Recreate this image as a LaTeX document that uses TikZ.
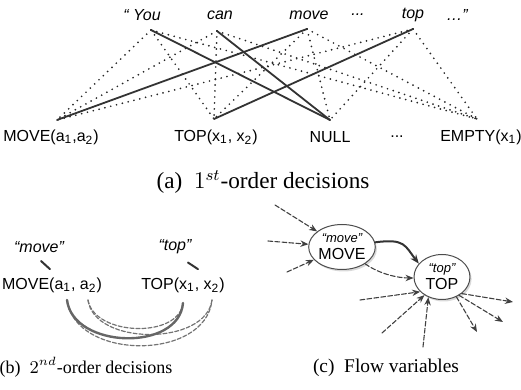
\documentclass[tikz,border=0pt]{standalone}
\usepackage{fontspec}
\setmainfont{Liberation Serif}
\setsansfont{Liberation Sans}
\usepackage{tikz}
\usetikzlibrary{arrows.meta,shapes.geometric,shadows,positioning}

\tikzset{
  wrd/.style={font=\sffamily\itshape\fontsize{8}{9}\selectfont, inner sep=1pt},
  pred/.style={font=\sffamily\fontsize{8}{9}\selectfont, inner sep=1pt},
  captxt/.style={font=\fontsize{9.7}{11}\selectfont, inner sep=0pt},
  dots/.style={black!85, line width=0.95pt, dash pattern=on 0pt off 3pt},
  hard/.style={black!80, line width=0.9pt},
  soft/.style={black!55, line width=0.6pt, dash pattern=on 2pt off 1pt},
  flow/.style={black!75, line width=0.55pt, dash pattern=on 2.4pt off 1.1pt, -{Stealth[length=4pt,width=3.2pt]}},
  var/.style={ellipse, draw=black!70, fill=white, line width=0.5pt, minimum width=28pt, minimum height=22.5pt,
    inner sep=0pt, align=center, font=\sffamily\fontsize{8}{8.5}\selectfont,
    drop shadow={shadow xshift=0.8pt, shadow yshift=-1pt, opacity=.3}}
}

\begin{document}
\begin{tikzpicture}[x=0.5pt, y=-0.5pt, line join=round, line cap=round]
  \useasboundingbox (0,0) rectangle (521,390);

  % (a) 1st-order decisions
  \node[wrd] (w1) at (142,15) {“ You};
  \node[wrd] (w2) at (220,15) {can};
  \node[wrd] (w3) at (309,15) {move};
  \node[wrd] (w4) at (358,15) {...};
  \node[wrd] (w5) at (413,15) {top};
  \node[wrd] (w6) at (457,15) {…”};
  \coordinate (you) at (151,30);
  \coordinate (can) at (217,31);
  \coordinate (mov) at (307,29);
  \coordinate (top) at (413,29);
  \coordinate (dmove) at (57,120);
  \coordinate (dtop) at (214,119);
  \coordinate (dnull) at (330,120);
  \coordinate (dempty) at (477,119);
  \node[pred] (p1) at (51,137) {MOVE(a\textsubscript{1},a\textsubscript{2})};
  \node[pred] (p2) at (216,137) {TOP(x\textsubscript{1}, x\textsubscript{2})};
  \node[pred] (p3) at (330,137) {NULL};
  \node[pred] (p4) at (397,137) {...};
  \node[pred] (p5) at (481,137) {EMPTY(x\textsubscript{1})};

  \draw[dots] (you) -- (dmove);
  \draw[dots] (you) -- (dtop);
  \draw[dots] (you) -- (dempty);
  \draw[dots] (can) -- (dmove);
  \draw[dots] (can) -- (dtop);
  \draw[dots] (can) -- (dempty);
  \draw[dots] (mov) -- (dtop);
  \draw[dots] (mov) -- (dnull);
  \draw[dots] (mov) -- (dempty);
  \draw[dots] (top) -- (dmove);
  \draw[dots] (top) -- (dnull);
  \draw[dots] (top) -- (dempty);
  \draw[hard] (you) -- (dnull);
  \draw[hard] (can) -- (dnull);
  \draw[hard] (mov) -- (dmove);
  \draw[hard] (top) -- (dtop);

  \node[captxt, font=\fontsize{11.6}{13}\selectfont] (capa) at (263,182) {(a)\ \ $1^{st}$-order decisions};

  % (b) 2nd-order decisions
  \node[wrd] (qmove) at (39,247) {“move”};
  \node[wrd] (qtop) at (175,247) {“top”};
  \node[pred] (amove) at (52,285) {MOVE(a\textsubscript{1}, a\textsubscript{2})};
  \node[pred] (atop) at (183,285) {TOP(x\textsubscript{1}, x\textsubscript{2})};
  \draw[hard, line width=1pt] ([xshift=1pt,yshift=-3pt]qmove.south) -- ([xshift=-1pt,yshift=3pt]amove.north);
  \draw[hard, line width=1pt] ([xshift=6.5pt,yshift=-3pt]qtop.south) -- ([xshift=7.5pt,yshift=3pt]atop.north);
  \coordinate (a1) at (67,300);
  \coordinate (a2) at (88,300);
  \coordinate (x1) at (183,303);
  \coordinate (x2) at (212,300);
  \draw[soft] (a1) .. controls +(8,61) and +(-6,61) .. (x2);
  \draw[soft] (a2) .. controls +(6,46) and +(-6,46) .. (x2);
  \draw[soft] (a2) .. controls +(6,36) and +(-4,36) .. (x1);
  \draw[black!60, line width=1.2pt] (a1) .. controls +(6,49) and +(-4,49) .. (x1);

  \node[captxt, font=\fontsize{9}{10.5}\selectfont] (capb) at (86,367) {(b)\ \ $2^{nd}$-order decisions};

  % (c) Flow variables
  \node[var] (fmove) at (342,247) {{\fontsize{6.5}{7}\selectfont\itshape “move”}\\MOVE};
  \node[var] (ftop) at (442,277) {{\fontsize{6.5}{7}\selectfont\itshape “top”}\\TOP};
  \coordinate (in1) at (275,205);
  \coordinate (in2) at (268,241);
  \coordinate (in3) at (287,272);
  \coordinate (in4) at (360,300);
  \coordinate (in5) at (382,333);
  \coordinate (in6) at (423,347);
  \coordinate (out1) at (513,302);
  \coordinate (out2) at (503,322);
  \coordinate (out3) at (477,332);
  \draw[flow] (in1) -- (fmove);
  \draw[flow] (in2) -- (fmove);
  \draw[flow] (in3) -- (fmove);
  \draw[hard, line width=1pt, -{Stealth[length=4.5pt,width=3.5pt]}] (fmove.8) .. controls +(30,-4) and +(-14,-18) .. (ftop.150);
  \draw[flow] (fmove.-36) .. controls +(14,10) and +(-16,0) .. (ftop.182);
  \draw[flow] (in4) -- (ftop.214);
  \draw[flow] (in5) -- (ftop.226);
  \draw[flow] (in6) -- (ftop.236);
  \draw[flow] (ftop.-40) -- (out1);
  \draw[flow] (ftop.-47) -- (out2);
  \draw[flow] (ftop.-54) -- (out3);

  \node[captxt] (capc) at (386,368) {(c)\ \ Flow variables};
\end{tikzpicture}
\end{document}
